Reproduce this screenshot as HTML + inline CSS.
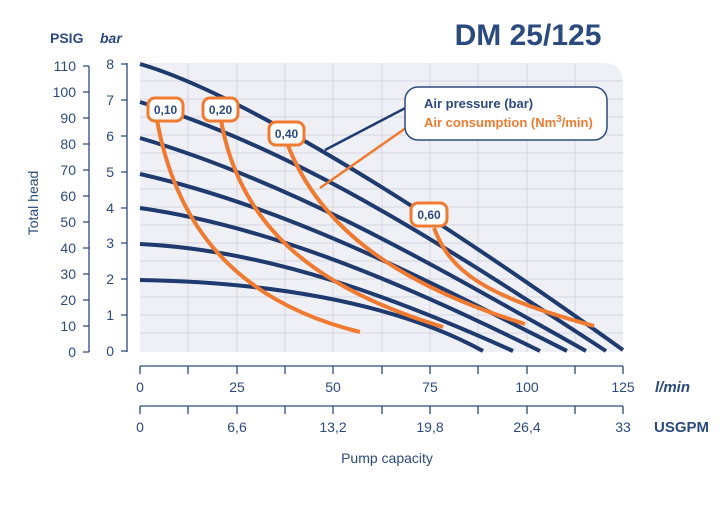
<!DOCTYPE html>
<html><head><meta charset="utf-8"><style>
html,body{margin:0;padding:0;background:#fff;}
svg{display:block;font-family:"Liberation Sans",sans-serif;}
</style></head><body>
<svg width="720" height="505" viewBox="0 0 720 505" xmlns="http://www.w3.org/2000/svg">
<defs><clipPath id="pc"><path d="M140,63 H603 Q623,63 623,83 V352 H140 Z"/></clipPath></defs>
<path d="M140,63 H603 Q623,63 623,83 V352 H140 Z" fill="#eff0f5"/>
<g clip-path="url(#pc)" stroke="#d4d6de" stroke-width="1">
<path d="M188,63V352M237,63V352M285,63V352M333,63V352M382,63V352M430,63V352M478,63V352M527,63V352M575,63V352"/>
<path d="M140,81H623M140,99H623M140,117H623M140,135H623M140,153H623M140,171H623M140,189H623M140,207H623M140,225H623M140,243H623M140,261H623M140,279H623M140,297H623M140,315H623M140,333H623"/>
</g>
<text x="528" y="45" font-size="30" font-weight="bold" fill="#2b4a7e" text-anchor="middle">DM 25/125</text>
<text x="50" y="43" font-size="14" font-weight="bold" fill="#2b4a7e">PSIG</text>
<text x="100" y="43" font-size="14" font-weight="bold" font-style="italic" fill="#2b4a7e">bar</text>
<g stroke="#2b4a7e" stroke-width="1.3" fill="none">
<path d="M89,66V352"/><path d="M127,63V352"/>
<path d="M83,66H89M83,92H89M83,118H89M83,144H89M83,170H89M83,196H89M83,222H89M83,248H89M83,274H89M83,300H89M83,326H89M83,352H89"/>
<path d="M121,64H127M121,100H127M121,136H127M121,172H127M121,208H127M121,243H127M121,279H127M121,315H127M121,351H127"/>
<path d="M140,366H623M140,406H623"/>
<path d="M140,366v8M188,366v8M237,366v8M285,366v8M333,366v8M382,366v8M430,366v8M478,366v8M527,366v8M575,366v8M623,366v8"/>
<path d="M140,406v8M188,406v8M237,406v8M285,406v8M333,406v8M382,406v8M430,406v8M478,406v8M527,406v8M575,406v8M623,406v8"/>
</g>
<g font-size="14" fill="#2b4a7e" text-anchor="end">
<text x="76" y="71">110</text><text x="76" y="97">100</text><text x="76" y="123">90</text><text x="76" y="149">80</text><text x="76" y="175">70</text><text x="76" y="201">60</text><text x="76" y="227">50</text><text x="76" y="253">40</text><text x="76" y="279">30</text><text x="76" y="305">20</text><text x="76" y="331">10</text><text x="76" y="357">0</text>
<text x="114" y="69">8</text><text x="114" y="105">7</text><text x="114" y="141">6</text><text x="114" y="177">5</text><text x="114" y="213">4</text><text x="114" y="248">3</text><text x="114" y="284">2</text><text x="114" y="320">1</text><text x="114" y="356">0</text>
</g>
<text transform="translate(38,203) rotate(-90)" font-size="14" fill="#2b4a7e" text-anchor="middle">Total head</text>
<g font-size="14" fill="#2b4a7e" text-anchor="middle">
<text x="140" y="392">0</text><text x="237" y="392">25</text><text x="333" y="392">50</text><text x="430" y="392">75</text><text x="527" y="392">100</text><text x="623" y="392">125</text>
<text x="140" y="432">0</text><text x="237" y="432">6,6</text><text x="333" y="432">13,2</text><text x="430" y="432">19,8</text><text x="527" y="432">26,4</text><text x="623" y="432">33</text>
<text x="387" y="463">Pump capacity</text>
</g>
<text x="655" y="392" font-size="15" font-weight="bold" font-style="italic" fill="#2b4a7e">l/min</text>
<text x="654" y="432" font-size="15" font-weight="bold" fill="#2b4a7e">USGPM</text>
<g stroke="#1f3a6e" stroke-width="4" fill="none" stroke-linecap="butt">
<path d="M140,64 C230,90 400,190 623,350"/>
<path d="M140,102 C300,150 450,250 606,351"/>
<path d="M140,138 C300,185 450,275 586,351"/>
<path d="M140,174 C290,208 430,282 567,351"/>
<path d="M140,208 C280,228 420,292 540,351"/>
<path d="M140,244 C270,250 400,300 513,351"/>
<path d="M140,280 C260,282 390,300 483,351"/>
</g>
<g stroke="#f07a30" stroke-width="4" fill="none">
<path d="M157,120 C175,220 230,300 360,332"/>
<path d="M221,120 C240,230 320,290 443,327"/>
<path d="M287,143 C320,230 400,285 525,324"/>
<path d="M434,228 C450,270 480,295 594,326"/>
</g>
<g stroke="#f07a30" stroke-width="3" fill="#fff">
<rect x="148" y="98" width="35" height="23" rx="7"/>
<rect x="203" y="98" width="35" height="23" rx="7"/>
<rect x="269" y="122" width="35" height="23" rx="7"/>
<rect x="411" y="203" width="36" height="23" rx="7"/>
</g>
<g font-size="12" font-weight="bold" fill="#2b4a7e" text-anchor="middle">
<text x="165.5" y="114">0,10</text><text x="220.5" y="114">0,20</text><text x="286.5" y="138">0,40</text><text x="429" y="219">0,60</text>
</g>
<path d="M413,104 L325,150" stroke="#1f3a6e" stroke-width="2.5"/>
<path d="M413,123 L320,188" stroke="#f07a30" stroke-width="2.5"/>
<rect x="405" y="87" width="202" height="53" rx="13" fill="#fff" stroke="#2b4a7e" stroke-width="1.5"/>
<text x="424" y="108" font-size="13" font-weight="bold" fill="#2b4a7e">Air pressure (bar)</text>
<text x="424" y="127" font-size="13" font-weight="bold" fill="#f07a30">Air consumption (Nm<tspan dy="-5" font-size="10">3</tspan><tspan dy="5">/min)</tspan></text>
</svg>
</body></html>
